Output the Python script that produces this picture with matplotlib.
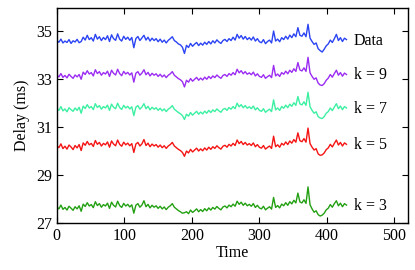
import numpy as np
import matplotlib
matplotlib.use("Agg")
import matplotlib.pyplot as plt

plt.rcParams["font.family"] = ["Liberation Serif", "DejaVu Serif"]
plt.rcParams["mathtext.fontset"] = "stix"

# sampling step along the time axis
step = 3

data = [
    34.62, 34.55, 34.68, 34.52, 34.60, 34.54, 34.66, 34.50, 34.61, 34.56, 34.67, 34.53,
    34.58, 34.76, 34.64, 34.84, 34.66, 34.74, 34.60, 34.88, 34.68, 34.78, 34.62, 34.75,
    34.66, 34.82, 34.58, 34.86, 34.70, 34.63, 34.90, 34.68, 34.60, 34.80, 34.67, 34.76,
    34.63, 34.75, 34.32, 34.70, 34.79, 34.62, 34.73, 34.84, 34.64, 34.76, 34.60, 34.72,
    34.62, 34.70, 34.57, 34.68, 34.55, 34.64, 34.52, 34.63, 34.70, 34.78, 34.62, 34.56,
    34.48, 34.44, 34.34, 34.08, 34.42, 34.33, 34.50, 34.38, 34.47, 34.54, 34.41, 34.51,
    34.43, 34.55, 34.46, 34.58, 34.48, 34.61, 34.52, 34.65, 34.56, 34.50, 34.62, 34.67,
    34.58, 34.70, 34.62, 34.76, 34.64, 34.88, 34.72, 34.83, 34.68, 34.79, 34.66, 34.74,
    34.64, 34.77, 34.60, 34.70, 34.57, 34.53, 34.66, 34.49, 34.58, 34.64, 34.52, 35.02,
    34.60, 34.68, 34.57, 34.74, 34.66, 34.80, 34.68, 34.85, 34.74, 34.90, 34.78, 35.16,
    34.84, 34.80, 34.94, 34.78, 35.30, 34.72, 34.58, 34.46, 34.52, 34.28, 34.20, 34.14,
    34.26, 34.40, 34.48, 34.64, 34.54, 34.70, 34.88, 34.62, 34.74, 34.58, 34.72, 34.66,
]

k9 = [
    33.18, 33.10, 33.24, 33.08, 33.16, 33.06, 33.21, 33.12, 33.04, 33.18, 33.10, 33.20,
    33.00, 33.30, 33.20, 33.36, 33.22, 33.28, 33.14, 33.40, 33.24, 33.32, 33.17, 33.28,
    33.22, 33.34, 33.12, 33.38, 33.25, 33.18, 33.42, 33.24, 33.15, 33.33, 33.22, 33.29,
    33.18, 33.27, 32.88, 33.25, 33.32, 33.17, 33.26, 33.40, 33.19, 33.29, 33.14, 33.25,
    33.17, 33.23, 33.12, 33.21, 33.10, 33.18, 33.07, 33.17, 33.23, 33.32, 33.17, 33.10,
    33.03, 32.98, 32.90, 32.68, 32.96, 32.88, 33.03, 32.92, 33.00, 33.08, 32.96, 33.05,
    32.97, 33.09, 33.00, 33.12, 33.03, 33.14, 33.07, 33.18, 33.10, 33.04, 33.16, 33.20,
    33.12, 33.24, 33.17, 33.28, 33.19, 33.42, 33.27, 33.36, 33.23, 33.32, 33.21, 33.27,
    33.19, 33.30, 33.14, 33.23, 33.12, 33.08, 33.19, 33.04, 33.11, 33.17, 33.07, 33.58,
    33.14, 33.22, 33.12, 33.28, 33.21, 33.34, 33.23, 33.38, 33.29, 33.44, 33.33, 33.70,
    33.39, 33.35, 33.48, 33.33, 33.92, 33.27, 33.12, 33.00, 33.06, 32.84, 32.76, 32.74,
    32.82, 32.96, 33.05, 33.20, 33.09, 33.24, 33.38, 33.17, 33.28, 33.13, 33.26, 33.20,
]

k7 = [
    31.78, 31.70, 31.86, 31.68, 31.76, 31.64, 31.81, 31.73, 31.66, 31.80, 31.70, 31.83,
    31.58, 31.88, 31.78, 31.94, 31.80, 31.86, 31.73, 31.98, 31.82, 31.90, 31.75, 31.86,
    31.80, 31.92, 31.70, 31.96, 31.83, 31.77, 32.00, 31.82, 31.74, 31.91, 31.80, 31.87,
    31.76, 31.85, 31.48, 31.83, 31.90, 31.75, 31.84, 31.98, 31.77, 31.87, 31.72, 31.83,
    31.75, 31.81, 31.70, 31.79, 31.68, 31.76, 31.65, 31.75, 31.81, 31.90, 31.75, 31.68,
    31.61, 31.56, 31.48, 31.32, 31.54, 31.46, 31.61, 31.50, 31.58, 31.66, 31.54, 31.63,
    31.55, 31.67, 31.58, 31.70, 31.61, 31.72, 31.65, 31.76, 31.68, 31.62, 31.74, 31.78,
    31.70, 31.82, 31.75, 31.86, 31.77, 32.00, 31.85, 31.94, 31.81, 31.90, 31.79, 31.85,
    31.77, 31.88, 31.72, 31.81, 31.70, 31.66, 31.77, 31.62, 31.69, 31.75, 31.65, 32.14,
    31.72, 31.80, 31.70, 31.86, 31.79, 31.92, 31.81, 31.96, 31.87, 32.02, 31.91, 32.28,
    31.97, 31.93, 32.06, 31.91, 32.46, 31.85, 31.70, 31.58, 31.64, 31.44, 31.38, 31.36,
    31.44, 31.58, 31.65, 31.80, 31.69, 31.84, 31.98, 31.77, 31.88, 31.73, 31.86, 31.80,
]

k5 = [
    30.22, 30.14, 30.30, 30.10, 30.20, 30.08, 30.25, 30.17, 30.06, 30.23, 30.13, 30.27,
    30.02, 30.34, 30.24, 30.40, 30.26, 30.32, 30.19, 30.44, 30.28, 30.36, 30.21, 30.32,
    30.26, 30.38, 30.16, 30.42, 30.29, 30.22, 30.46, 30.28, 30.20, 30.37, 30.26, 30.33,
    30.22, 30.31, 29.94, 30.29, 30.36, 30.21, 30.30, 30.48, 30.23, 30.33, 30.18, 30.29,
    30.21, 30.27, 30.16, 30.25, 30.14, 30.22, 30.11, 30.21, 30.27, 30.36, 30.21, 30.14,
    30.07, 30.02, 29.94, 29.78, 30.00, 29.92, 30.07, 29.96, 30.04, 30.12, 30.00, 30.09,
    30.01, 30.13, 30.04, 30.16, 30.07, 30.18, 30.11, 30.22, 30.14, 30.08, 30.20, 30.24,
    30.16, 30.28, 30.21, 30.32, 30.23, 30.46, 30.31, 30.40, 30.27, 30.36, 30.25, 30.31,
    30.23, 30.34, 30.18, 30.27, 30.16, 30.12, 30.23, 30.08, 30.15, 30.21, 30.11, 30.62,
    30.18, 30.26, 30.16, 30.32, 30.25, 30.38, 30.27, 30.42, 30.33, 30.48, 30.37, 30.76,
    30.43, 30.39, 30.52, 30.37, 30.96, 30.31, 30.16, 30.04, 30.10, 29.88, 29.82, 29.84,
    29.92, 30.06, 30.13, 30.28, 30.17, 30.32, 30.46, 30.25, 30.36, 30.21, 30.34, 30.28,
]

k3 = [
    27.66, 27.58, 27.74, 27.56, 27.64, 27.53, 27.69, 27.61, 27.52, 27.67, 27.58, 27.71,
    27.48, 27.78, 27.68, 27.84, 27.70, 27.76, 27.63, 27.88, 27.72, 27.80, 27.65, 27.76,
    27.70, 27.82, 27.60, 27.86, 27.73, 27.66, 27.90, 27.72, 27.64, 27.81, 27.70, 27.77,
    27.66, 27.75, 27.40, 27.73, 27.80, 27.65, 27.74, 27.92, 27.67, 27.77, 27.62, 27.73,
    27.65, 27.71, 27.60, 27.69, 27.58, 27.66, 27.55, 27.65, 27.71, 27.80, 27.65, 27.58,
    27.51, 27.46, 27.40, 27.42, 27.46, 27.38, 27.53, 27.43, 27.50, 27.58, 27.46, 27.55,
    27.47, 27.59, 27.50, 27.62, 27.53, 27.64, 27.57, 27.68, 27.60, 27.54, 27.66, 27.70,
    27.62, 27.74, 27.67, 27.78, 27.69, 27.90, 27.77, 27.86, 27.73, 27.82, 27.71, 27.77,
    27.69, 27.80, 27.64, 27.73, 27.62, 27.58, 27.69, 27.54, 27.61, 27.67, 27.57, 28.06,
    27.64, 27.72, 27.62, 27.78, 27.71, 27.84, 27.73, 27.88, 27.79, 27.94, 27.83, 28.24,
    27.87, 27.83, 27.96, 27.81, 28.50, 27.75, 27.58, 27.44, 27.50, 27.34, 27.28, 27.32,
    27.40, 27.54, 27.61, 27.76, 27.65, 27.80, 27.92, 27.71, 27.82, 27.67, 27.80, 27.74,
]

series = [data, k9, k7, k5, k3]
labels = ["Data", "k = 9", "k = 7", "k = 5", "k = 3"]
label_y = [34.62, 33.18, 31.76, 30.24, 27.70]
colors = ["#2b44f2", "#9b2cf2", "#3cf0a2", "#f41414", "#22a012"]

xticks = [0, 100, 200, 300, 400, 500]
yticks = [27, 29, 31, 33, 35]

fig = plt.figure(figsize=(4.15, 2.7), dpi=100)
ax = fig.add_axes([0.137, 0.175, 0.846, 0.797])

for vals, c in zip(series, colors):
    t = np.arange(len(vals)) * step
    ax.plot(t, vals, color=c, lw=1.0)

for lab, y in zip(labels, label_y):
    ax.text(440, y, lab, ha="left", va="center", fontsize=11.5)

ax.set_xlim(0, 520)
ax.set_ylim(27, 36)
ax.set_xticks(xticks)
ax.set_yticks(yticks)
ax.tick_params(direction="in", top=True, right=True, length=4,
               width=0.8, labelsize=11.5)
for s in ax.spines.values():
    s.set_linewidth(1.0)

ax.set_xlabel("Time", fontsize=11.5, labelpad=1)
ax.set_ylabel("Delay (ms)", fontsize=11.5, labelpad=4)

fig.savefig("out.png", dpi=100)
